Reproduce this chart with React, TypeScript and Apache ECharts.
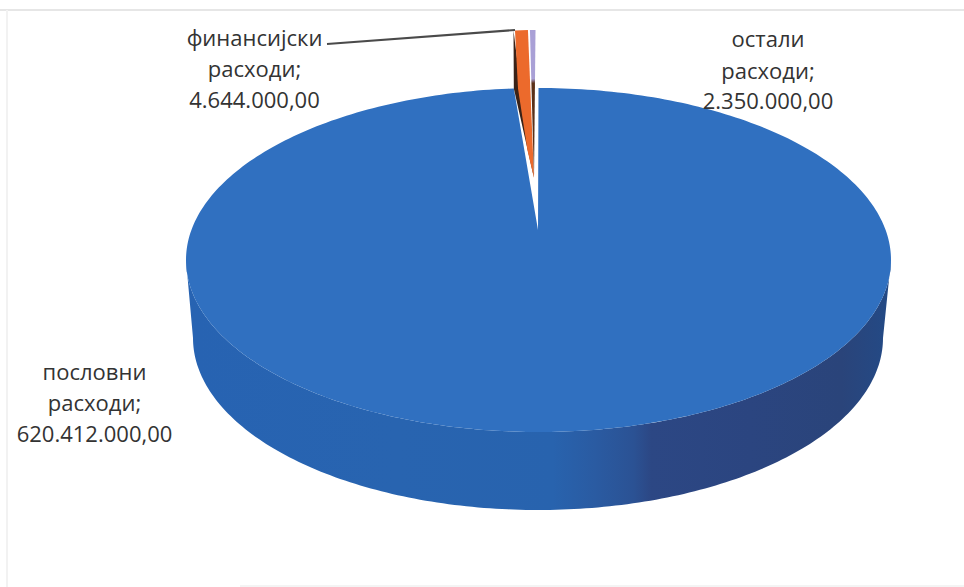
import React, { useEffect, useRef } from "react";
import * as echarts from "echarts";

const categories = ["пословни расходи", "финансијски расходи", "остали расходи"];
const labelLines = [["пословни", "расходи;"], ["финансијски", "расходи;"], ["остали", "расходи;"]];
const values = [620412000, 4644000, 2350000];
const valueLabels = ["620.412.000,00", "4.644.000,00", "2.350.000,00"];

const W = 964;
const H = 587;
const TOP = { cx: 538.5, cy: 260, rx: 352.5, ry: 172 };
const BOTTOM = { cx: 538, cy: 338, rx: 345, ry: 172 };
const APEX: [number, number] = [538, 230];
const EXPLODED = { cx: 535.5, cy: 202, rx: 300, ry: 172 };
const EXPLODED_APEX: [number, number] = [534, 178];
const total = values.reduce((a, b) => a + b, 0);

type E = { cx: number; cy: number; rx: number; ry: number };
const pt = (e: E, t: number): [number, number] => [e.cx + e.rx * Math.sin(t), e.cy - e.ry * Math.cos(t)];
const arc = (e: E, a: number, b: number) => {
  const n = Math.max(2, Math.ceil((Math.abs(b - a) * 180) / Math.PI));
  const out: [number, number][] = [];
  for (let i = 0; i <= n; i++) out.push(pt(e, a + ((b - a) * i) / n));
  return out;
};
const global = (x0: number, y0: number, x1: number, y1: number, stops: [number, string][]) =>
  new echarts.graphic.LinearGradient(x0, y0, x1, y1, stops.map(([offset, color]) => ({ offset, color })), true);

const sideFill = () =>
  global(186, 0, 891, 0, [
    [0, "#2763b2"],
    [0.3, "#2864b0"],
    [0.52, "#2863ae"],
    [0.58, "#2a5ba2"],
    [0.635, "#2b5294"],
    [0.66, "#2c4784"],
    [0.8, "#2b4580"],
    [0.93, "#2a447a"],
    [1, "#234a86"],
  ]);

function renderItem(params: any) {
  const i = params.dataIndex;
  let start = 0;
  for (let k = 0; k < i; k++) start += (values[k] / total) * Math.PI * 2;
  const end = start + (values[i] / total) * Math.PI * 2;
  if (i === 0) {
    const side = [...arc(TOP, Math.PI / 2, (3 * Math.PI) / 2), ...arc(BOTTOM, (3 * Math.PI) / 2, Math.PI / 2)];
    return {
      type: "group",
      children: [
        { type: "polygon", shape: { points: side }, style: { fill: sideFill() } },
        { type: "polygon", shape: { points: [APEX, ...arc(TOP, start, end)] }, style: { fill: "#3070c0" } },
      ],
    };
  }
  const outer = arc(EXPLODED, start, end);
  if (i === 1) {
    const wallBottom = pt(TOP, start);
    const a = outer[0];
    const b = outer[outer.length - 1];
    return {
      type: "group",
      children: [
        {
          type: "polygon",
          shape: { points: [[a[0] - 1, a[1]], [wallBottom[0], wallBottom[1]], EXPLODED_APEX, [a[0] + 4, a[1] + 40]] },
          style: { fill: "#3a2218" },
        },
        {
          type: "polygon",
          shape: {
            points: [
              EXPLODED_APEX,
              [a[0] + 13, wallBottom[1] + 62],
              [a[0] + 3.5, wallBottom[1]],
              [a[0] + 0.5, a[1]],
              [b[0] - 0.5, b[1]],
            ],
          },
          style: { fill: "#ec6a2c" },
        },
      ],
    };
  }
  return {
    type: "polygon",
    shape: { points: [EXPLODED_APEX, [outer[0][0] + 1.5, outer[0][1]], ...outer.slice(1)] },
    style: {
      fill: global(0, 30, 0, 178, [
        [0, "#a9a0d6"],
        [0.33, "#a9a0d6"],
        [0.36, "#5a3018"],
        [1, "#5a3018"],
      ]),
    },
  };
}

const labelStyle = { fontFamily: "'Open Sans', sans-serif", fontSize: 22, fill: "#333333", textAlign: "center" as const, textVerticalAlign: "middle" as const };
const makeLabel = (i: number, x: number, ys: number[]) =>
  [...labelLines[i], valueLabels[i]].map((text, k) => ({
    type: "text",
    x,
    y: ys[k],
    z: 10,
    style: { ...labelStyle, text },
  }));

export default function App() {
  const ref = useRef<HTMLDivElement>(null);
  useEffect(() => {
    const chart = echarts.init(ref.current!, undefined, { renderer: "svg" });
    chart.setOption({
      animation: false,
      backgroundColor: "#ffffff",
      series: [
        {
          type: "custom",
          coordinateSystem: "none",
          renderItem,
          data: categories.map((name, i) => ({ name, value: values[i] })),
        },
      ],
      graphic: [
        { type: "line", z: 1, shape: { x1: 0, y1: 10, x2: W, y2: 10 }, style: { stroke: "#e6e6e6", lineWidth: 2 } },
        { type: "line", z: 1, shape: { x1: 7, y1: 10, x2: 7, y2: H }, style: { stroke: "#f2f2f2", lineWidth: 2 } },
        { type: "line", z: 1, shape: { x1: 240, y1: 586, x2: W, y2: 586 }, style: { stroke: "#f4f4f4", lineWidth: 2 } },
        { type: "line", z: 5, shape: { x1: 327, y1: 44, x2: 515, y2: 30 }, style: { stroke: "#4a4a4a", lineWidth: 2 } },
        ...makeLabel(0, 94.5, [371, 402, 433]),
        ...makeLabel(1, 254.5, [37, 68, 99]),
        ...makeLabel(2, 768, [38, 70, 100]),
      ],
    });
    return () => chart.dispose();
  }, []);
  return <div ref={ref} style={{ position: "fixed", left: 0, top: 0, width: W, height: H }} />;
}
